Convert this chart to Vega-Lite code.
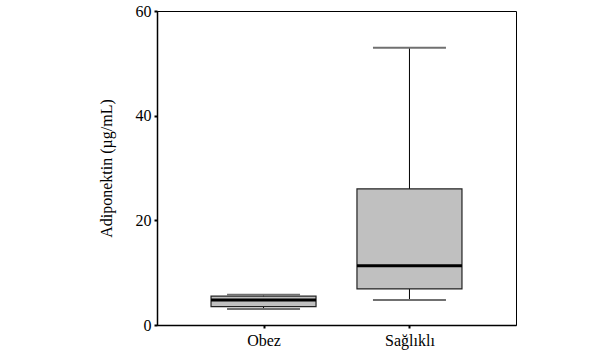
{
  "$schema": "https://vega.github.io/schema/vega-lite/v6.json",
  "width": 359,
  "height": 314,
  "autosize": "none",
  "padding": {"left": 157, "top": 11, "right": 91, "bottom": 31},
  "background": "white",
  "config": {
    "view": {"stroke": "black", "strokeWidth": 1},
    "font": "Liberation Serif"
  },
  "data": {
    "values": [
      {"group": "Obez", "min": 3.05, "q1": 3.5, "median": 4.8, "q3": 5.5, "max": 5.8},
      {"group": "Sağlıklı", "min": 4.8, "q1": 6.9, "median": 11.3, "q3": 26.0, "max": 53.0}
    ]
  },
  "encoding": {
    "x": {
      "field": "group",
      "type": "nominal",
      "sort": ["Obez", "Sağlıklı"],
      "scale": {"type": "point", "padding": 0.73},
      "axis": {
        "title": null,
        "labelAngle": 0,
        "labelFont": "Liberation Serif",
        "labelFontSize": 16,
        "labelColor": "black",
        "labelPadding": 4,
        "tickSize": 3,
        "tickWidth": 2,
        "tickColor": "black",
        "domainColor": "black",
        "domainWidth": 1.5
      }
    }
  },
  "layer": [
    {
      "mark": {"type": "rule", "color": "black", "strokeWidth": 1},
      "encoding": {
        "y": {
          "field": "min",
          "type": "quantitative",
          "scale": {"domain": [0, 60], "nice": false},
          "axis": {
            "title": "Adiponektin (µg/mL)",
            "titleFont": "Liberation Serif",
            "titleFontWeight": "normal",
            "titleFontSize": 16,
            "titleColor": "black",
            "titlePadding": 21,
            "values": [0, 20, 40, 60],
            "grid": false,
            "labelFont": "Liberation Serif",
            "labelFontSize": 16,
            "labelColor": "black",
            "labelPadding": 3,
            "tickSize": 3,
            "tickWidth": 2,
            "tickColor": "black",
            "domainColor": "black",
            "domainWidth": 1.5
          }
        },
        "y2": {"field": "max"}
      }
    },
    {
      "mark": {"type": "bar", "size": 105, "fill": "#c0c0c0", "stroke": "#222222", "strokeWidth": 1.2},
      "encoding": {
        "y": {"field": "q1", "type": "quantitative"},
        "y2": {"field": "q3"}
      }
    },
    {
      "mark": {"type": "tick", "size": 73, "thickness": 2, "color": "#707070", "opacity": 1},
      "encoding": {"y": {"field": "max", "type": "quantitative"}}
    },
    {
      "mark": {"type": "tick", "size": 73, "thickness": 2, "color": "#707070", "opacity": 1},
      "encoding": {"y": {"field": "min", "type": "quantitative"}}
    },
    {
      "mark": {"type": "tick", "size": 105, "thickness": 3, "color": "black", "opacity": 1},
      "encoding": {"y": {"field": "median", "type": "quantitative"}}
    }
  ]
}
